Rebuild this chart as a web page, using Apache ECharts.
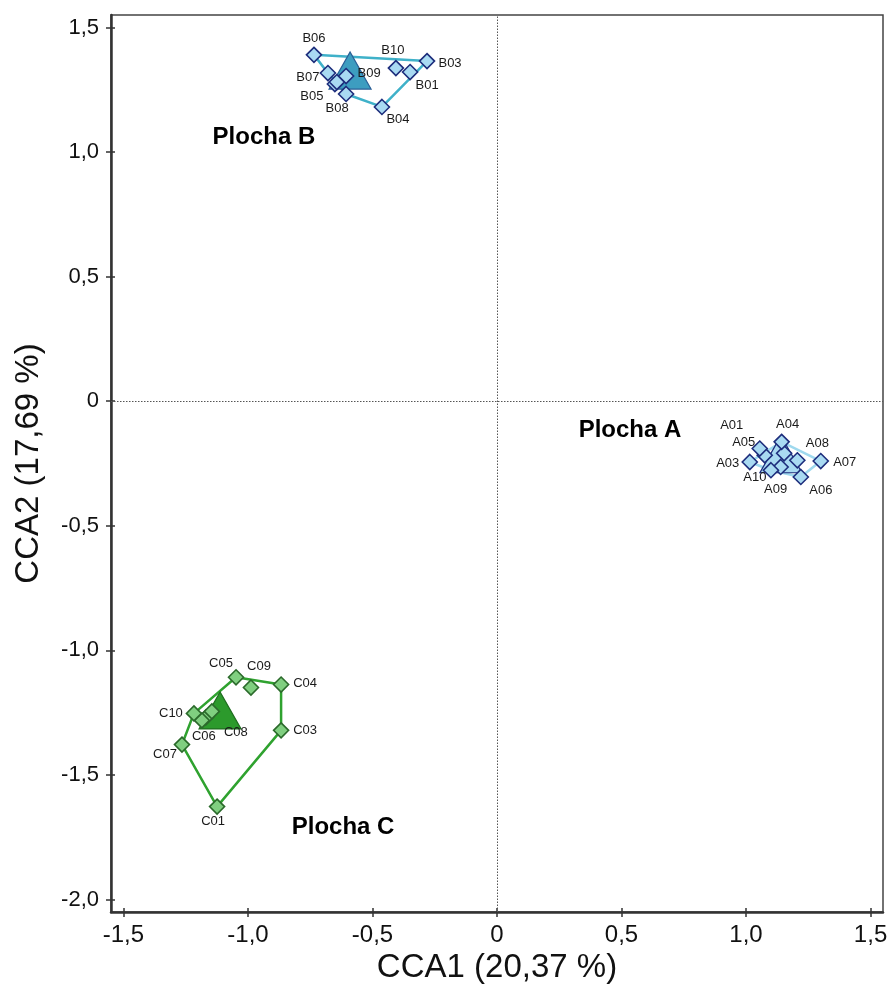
<!DOCTYPE html>
<html>
<head>
<meta charset="utf-8">
<script src="https://cdn.jsdelivr.net/npm/echarts@6/dist/echarts.min.js"></script>
<style>html,body{margin:0;padding:0;background:#fff}#c{width:890px;height:985px}</style>
</head>
<body>
<div id="c"></div>
<script>
// ---- data ----
const xTicks = [-1.5, -1.0, -0.5, 0, 0.5, 1.0, 1.5];
const yTicks = [-2.0, -1.5, -1.0, -0.5, 0, 0.5, 1.0, 1.5];

const aNames = ['A01','A02','A03','A04','A05','A06','A07','A08','A09','A10'];
const aX = [1.075, 1.153, 1.015, 1.143, 1.055, 1.220, 1.300, 1.206, 1.139, 1.100];
const aY = [-0.217, -0.209, -0.244, -0.163, -0.190, -0.304, -0.240, -0.237, -0.264, -0.277];
const aHull = ['A03','A04','A07','A06','A10','A03'];
const aCentroid = [1.14, -0.213];

const bNames = ['B01','B02','B03','B04','B05','B06','B07','B08','B09','B10'];
const bX = [-0.349, -0.651, -0.281, -0.462, -0.643, -0.735, -0.679, -0.606, -0.606, -0.406];
const bY = [1.321, 1.273, 1.365, 1.181, 1.281, 1.390, 1.317, 1.233, 1.305, 1.337];
const bHull = ['B06','B03','B04','B08','B05','B07','B06'];
const bCentroid = [-0.59, 1.327];

const cNames = ['C01','C02','C03','C04','C05','C06','C07','C08','C09','C10'];
const cX = [-1.124, -1.169, -0.867, -0.867, -1.048, -1.185, -1.265, -1.145, -0.988, -1.217];
const cY = [-1.627, -1.269, -1.321, -1.137, -1.108, -1.281, -1.378, -1.245, -1.149, -1.253];
const cHull = ['C05','C04','C03','C01','C07','C10','C05'];
const cCentroid = [-1.112, -1.241];

const groupLabels = ['Plocha A', 'Plocha B', 'Plocha C'];
const groupLabelX = [0.534, -0.936, -0.618];
const groupLabelY = [-0.116, 1.060, -1.711];

// label offsets (style), label centre relative to point centre in px
const labelOffset = {
  A01:[-33,-30], A03:[-22,1], A04:[6,-17], A05:[-16,-6], A06:[20,13], A07:[24,1], A08:[20,-17], A09:[-5,22], A10:[-16,7],
  B01:[17,13], B03:[23,2], B04:[16,12], B05:[-25,14], B06:[0,-16], B07:[-20,4], B08:[-9,14], B09:[23,-3], B10:[-3,-18],
  C01:[-4,15], C03:[24,0], C04:[24,-1], C05:[-15,-14], C06:[2,16], C07:[-17,10], C08:[24,21], C09:[8,-21], C10:[-23,0]
};

function pts(names, xs, ys) {
  return names.map((n, i) => ({
    name: n, value: [xs[i], ys[i]],
    label: { show: !!labelOffset[n] }
  }));
}
function hull(order, names, xs, ys) {
  return order.map(n => { const i = names.indexOf(n); return [xs[i], ys[i]]; });
}
function fmt(v) {
  if (Math.abs(v) < 1e-9) return '0';
  return v.toFixed(1).replace('.', ',');
}

const chart = echarts.init(document.getElementById('c'), null, { renderer: 'canvas' });

const ptLabel = { fontFamily: 'Liberation Sans, Arial, sans-serif', fontSize: 13, color: '#1a1a1a', position: 'inside', align: 'center', verticalAlign: 'middle', formatter: '{b}' };

function groupSeries(names, xs, ys, order, centroid, st) {
  return [
    { type: 'line', data: hull(order, names, xs, ys), symbol: 'none', silent: true, z: 2,
      lineStyle: { color: st.hull, width: 2.5 } },
    { type: 'scatter', data: [centroid], symbol: 'triangle', symbolSize: [42, 37], silent: true, z: 3,
      itemStyle: { color: st.triFill, borderColor: st.triBorder, borderWidth: 1.2, opacity: 1 } },
    { type: 'scatter', data: pts(names, xs, ys), symbol: 'diamond', symbolSize: 15, z: 4,
      itemStyle: { color: st.fill, borderColor: st.border, borderWidth: 1.6, opacity: 1 },
      label: ptLabel,
      labelLayout: function (p) {
        const o = labelOffset[names[p.dataIndex]] || [0, 0];
        return { dx: o[0], dy: o[1], hideOverlap: false };
      } }
  ];
}

const series = [].concat(
  groupSeries(bNames, bX, bY, bHull, bCentroid, { hull: '#3fb1c9', triFill: '#3d9dc0', triBorder: '#2a5f96', fill: '#a9daf2', border: '#1d2d7c' }),
  groupSeries(aNames, aX, aY, aHull, aCentroid, { hull: '#9fd9ee', triFill: '#a9daf2', triBorder: '#1d2d7c', fill: '#a9daf2', border: '#1d2d7c' }),
  groupSeries(cNames, cX, cY, cHull, cCentroid, { hull: '#2fa22f', triFill: '#2c9a2c', triBorder: '#1f6e1f', fill: '#80cf80', border: '#2b6a2b' })
);

series.push({
  type: 'scatter', symbolSize: 1, silent: true, z: 5,
  itemStyle: { opacity: 0 },
  data: groupLabels.map((g, i) => ({ name: g, value: [groupLabelX[i], groupLabelY[i]] })),
  label: { show: true, position: 'inside', formatter: '{b}', fontFamily: 'Liberation Sans, Arial, sans-serif', fontWeight: 'bold', fontSize: 24, color: '#000', opacity: 1 },
  markLine: {
    silent: true, symbol: 'none', label: { show: false },
    lineStyle: { color: '#555', type: [1.5, 1.5], width: 1, opacity: 1 },
    data: [{ xAxis: 0 }, { yAxis: 0 }]
  }
});

const tickStyle = { color: '#333', width: 1.5 };
chart.setOption({
  animation: false,
  backgroundColor: '#fff',
  grid: { left: 111, right: 7, top: 15, bottom: 73, show: true, borderColor: '#444', borderWidth: 1.5, outerBoundsMode: 'none', containLabel: false },
  xAxis: [{
    type: 'value', min: -1.55, max: 1.55, position: 'bottom',
    name: 'CCA1 (20,37 %)', nameLocation: 'middle', nameGap: 38,
    nameTextStyle: { fontFamily: 'Liberation Sans, Arial, sans-serif', fontSize: 33, color: '#111' },
    axisLine: { show: true, onZero: false, lineStyle: { color: '#333', width: 2.5 } },
    axisTick: { show: true, length: 5, customValues: xTicks, lineStyle: tickStyle },
    axisLabel: { customValues: xTicks, formatter: fmt, margin: 11, fontFamily: 'Liberation Sans, Arial, sans-serif', fontSize: 24, color: '#111' },
    splitLine: { show: false }
  }, {
    type: 'value', min: -1.55, max: 1.55, position: 'bottom',
    axisLine: { show: false, onZero: false },
    axisTick: { show: true, inside: true, length: 4, customValues: xTicks, lineStyle: tickStyle },
    axisLabel: { show: false },
    splitLine: { show: false }
  }],
  yAxis: [{
    type: 'value', min: -2.05, max: 1.55, position: 'left',
    name: 'CCA2 (17,69 %)', nameLocation: 'middle', nameGap: 66, nameRotate: 90,
    nameTextStyle: { fontFamily: 'Liberation Sans, Arial, sans-serif', fontSize: 33, color: '#111' },
    axisLine: { show: true, onZero: false, lineStyle: { color: '#333', width: 2.5 } },
    axisTick: { show: true, length: 5, customValues: yTicks, lineStyle: tickStyle },
    axisLabel: { customValues: yTicks, formatter: fmt, margin: 12, fontFamily: 'Liberation Sans, Arial, sans-serif', fontSize: 22, color: '#111' },
    splitLine: { show: false }
  }, {
    type: 'value', min: -2.05, max: 1.55, position: 'left',
    axisLine: { show: false, onZero: false },
    axisTick: { show: true, inside: true, length: 4, customValues: yTicks, lineStyle: tickStyle },
    axisLabel: { show: false },
    splitLine: { show: false }
  }],
  series: series
});
</script>
</body>
</html>
